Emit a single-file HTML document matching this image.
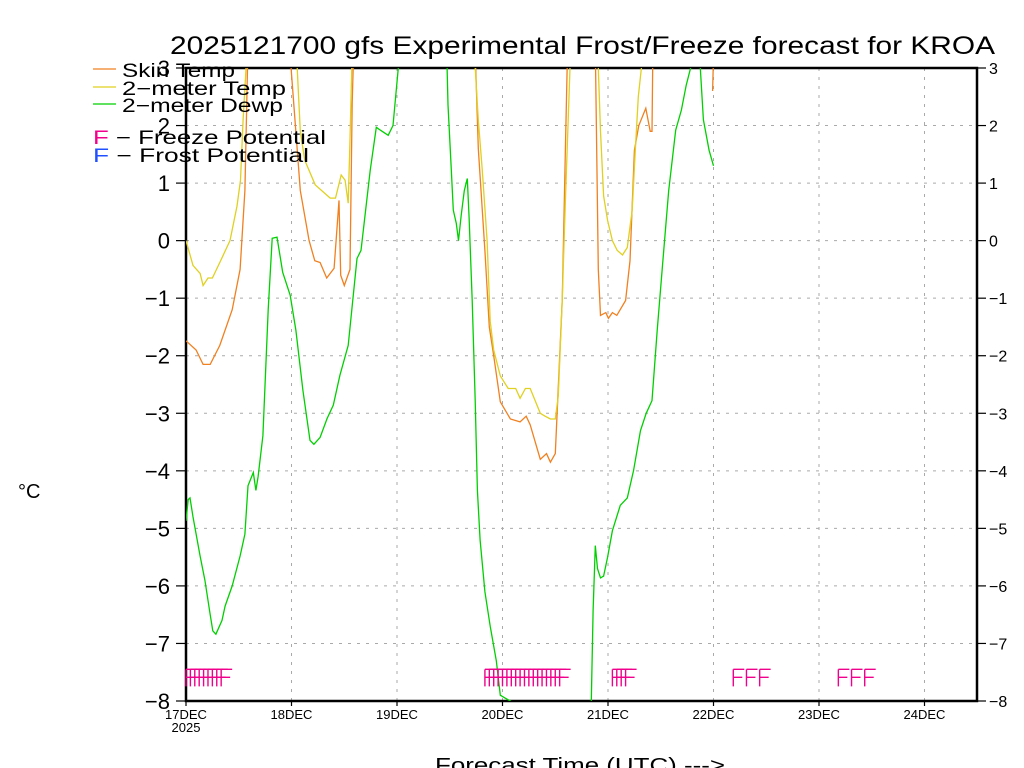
<!DOCTYPE html>
<html><head><meta charset="utf-8"><style>
html,body{margin:0;padding:0;background:#fff;}
svg{display:block;font-family:"Liberation Sans",sans-serif;}
</style></head><body>
<svg id="chart" width="1024" height="768" viewBox="0 0 1024 768" xmlns="http://www.w3.org/2000/svg">
<text x="170" y="54" textLength="825" lengthAdjust="spacingAndGlyphs" font-size="25" fill="#000">2025121700 gfs Experimental Frost/Freeze forecast for KROA</text>
<text x="18" y="498" font-size="20" fill="#000">°C</text>
<text x="435" y="772" textLength="290" lengthAdjust="spacingAndGlyphs" font-size="20" fill="#000">Forecast Time (UTC) ---&gt;</text>
<g id="grid"></g>
<g id="axes"></g>
<defs><clipPath id="plotclip"><rect x="186" y="68" width="791" height="633"/></clipPath></defs>
<g id="series" clip-path="url(#plotclip)"></g>
<g id="marks"></g>
<g id="legend">
  <line x1="93" y1="69" x2="116" y2="69" stroke="#f08020" stroke-width="1.3"/>
  <text x="122" y="77" font-size="19" textLength="113" lengthAdjust="spacingAndGlyphs">Skin Temp</text>
  <line x1="93" y1="87" x2="116" y2="87" stroke="#e0d020" stroke-width="1.3"/>
  <text x="122" y="95" font-size="19" textLength="164" lengthAdjust="spacingAndGlyphs">2−meter Temp</text>
  <line x1="93" y1="104" x2="116" y2="104" stroke="#00d000" stroke-width="1.3"/>
  <text x="122" y="112" font-size="19" textLength="161" lengthAdjust="spacingAndGlyphs">2−meter Dewp</text>
  <text x="93" y="144" font-size="19" textLength="233" lengthAdjust="spacingAndGlyphs"><tspan fill="#f0008c">F</tspan> − Freeze Potential</text>
  <text x="93" y="162" font-size="19" textLength="216" lengthAdjust="spacingAndGlyphs"><tspan fill="#2050ff">F</tspan> − Frost Potential</text>
</g>
</svg>
<script>
const yTicks=[3,2,1,0,-1,-2,-3,-4,-5,-6,-7,-8];
const dayLabels=["17DEC","18DEC","19DEC","20DEC","21DEC","22DEC","23DEC","24DEC"];
const skinHours=[0,2.3,3.9,5.5,7.7,10.5,12.3,13.4,14,15,null,23,24,26,28,29.3,30.5,32,33.7,34.8,35.2,36,37.3,37.8,38.4,null,65.5,66.5,68,69,70,71.5,73.8,76,77.4,78.3,80.6,82,82.9,84,85.6,86.3,87,null,93,93.4,93.8,94.3,95.5,96.1,97,98,100,101,102,103,104.6,105.6,106,106.3,null,119.8,120];
const skinVals=[-1.74,-1.9,-2.15,-2.15,-1.82,-1.2,-0.5,0.87,3,4,null,4,2.9,0.87,0,-0.35,-0.38,-0.65,-0.48,0.7,-0.6,-0.78,-0.5,2.4,4,null,4,1.6,-0.17,-1.5,-2.0,-2.8,-3.1,-3.15,-3.05,-3.2,-3.8,-3.7,-3.85,-3.7,-1.0,1.6,4,null,4,1.7,-0.5,-1.3,-1.25,-1.35,-1.25,-1.3,-1.04,-0.35,1.57,2.0,2.3,1.9,1.9,4,null,2.6,3.2];
const t2Hours=[0,1.6,3.2,3.9,5,6,7.7,10,11.6,12.4,13,13.8,null,24.8,25.3,26,27,29.4,32.8,34,35.3,36.2,36.9,37.3,37.8,null,65.4,65.8,66.5,67.4,68.5,69.2,70,71.5,73.3,75,76,77.2,78.3,80.6,81.7,82.9,84,84.7,85.6,86.3,87.5,null,93.5,93.8,94.3,95,95.9,97,98.1,99.3,100.4,101.5,102.2,102.9,103.6,104];
const t2Vals=[0,-0.43,-0.57,-0.78,-0.65,-0.65,-0.38,0,0.6,1.05,2.1,3.2,null,3.5,3,1.9,1.4,0.97,0.74,0.74,1.14,1.05,0.65,1.75,3.3,null,3.5,3,2.1,1.22,0,-1.4,-1.9,-2.35,-2.57,-2.57,-2.74,-2.57,-2.57,-3.0,-3.05,-3.1,-3.1,-2.7,-1.0,0.7,3.3,null,3.5,3,1.9,0.78,0.35,0,-0.17,-0.25,-0.12,0.53,1.57,2.5,3,3.4];
const dewHours=[0,0.5,0.9,1.6,3.2,4.3,5.5,6.1,6.8,8.2,8.9,10.5,12.3,13.4,14.1,15.3,15.9,16.4,17.5,18.7,19.6,20.7,22,23.7,25,26.6,28.2,29.1,30.5,32.1,33.5,35,36.9,38.9,39.8,41.9,43.3,44.2,46,47.1,48.3,49,null,59,59.4,59.6,60.3,60.8,61.5,62,62.6,63.3,64,64.4,65.1,65.8,66.3,66.9,68,69.2,70.6,71.5,72.6,73.8,75,null,91.8,92.2,92.6,93.1,93.6,94.3,95,95.9,97,98.8,100.4,101.8,103.4,104.7,106,107.2,108.4,109.8,111.4,112.7,113.8,114.8,115.5,116.5,117,117.7,119,120];
const dewVals=[-4.87,-4.5,-4.47,-4.8,-5.48,-5.9,-6.5,-6.78,-6.84,-6.6,-6.35,-6.0,-5.48,-5.1,-4.26,-4.03,-4.34,-4.1,-3.39,-1.2,0.04,0.06,-0.55,-0.95,-1.56,-2.6,-3.47,-3.54,-3.42,-3.09,-2.86,-2.34,-1.82,-0.31,-0.17,1.22,1.97,1.92,1.83,2.0,3,3.6,null,3.6,3,2.36,1.3,0.53,0.3,0,0.44,0.87,1.08,0.4,-1.04,-2.78,-4.34,-5.2,-6.1,-6.7,-7.3,-7.9,-7.95,-8.0,-8.3,null,-8.3,-8,-6.43,-5.3,-5.7,-5.86,-5.83,-5.5,-5.04,-4.6,-4.47,-4.0,-3.3,-3.0,-2.78,-1.56,-0.43,0.87,1.92,2.27,2.7,3,3.4,3.4,3,2.1,1.57,1.3];
const freezeHours=[0,1,2,3,4,5,6,7,8,68,69,70,71,72,73,74,75,76,77,78,79,80,81,82,83,84,85,97,98,99,100,124.5,127.5,130.5,148.4,151.4,154.4];

const NS="http://www.w3.org/2000/svg";
const X0=186,X1=977,Y3=68,Ym8=701,DAY=105.5;
function xs(h){return X0+h*DAY/24;}
function ys(v){return Y3+(3-v)*(Ym8-Y3)/11;}
function mk(tag,attrs,parent){const e=document.createElementNS(NS,tag);for(const k in attrs)e.setAttribute(k,attrs[k]);parent.appendChild(e);return e;}
const grid=document.getElementById('grid'),axes=document.getElementById('axes'),series=document.getElementById('series'),marks=document.getElementById('marks');
yTicks.forEach(v=>{
  const y=ys(v);
  const gl=mk('line',{x1:X0,x2:X1,y1:y,y2:y,stroke:'#aaa','stroke-dasharray':'3,6','stroke-width':1},grid);
  
  
  const tl=mk('line',{x1:176,x2:X0,y1:y,y2:y,stroke:'#000','stroke-width':1.2},axes);
  
  
  const tr=mk('line',{x1:X1,x2:986,y1:y,y2:y,stroke:'#000','stroke-width':1.2},axes);
  
  
  const lt=mk('text',{x:170,y:y+8,'text-anchor':'end','font-size':22},axes);
  lt.textContent=(v<0?'−':'')+Math.abs(v);
  
  
  const rt=mk('text',{x:989,y:y+6,'font-size':16},axes);
  rt.textContent=(v<0?'−':'')+Math.abs(v);
  
  
});
dayLabels.forEach((d,i)=>{
  const x=xs(i*24);
  if(i>0){const gl=mk('line',{x1:x,x2:x,y1:Y3,y2:Ym8,stroke:'#aaa','stroke-dasharray':'3,6','stroke-width':1},grid);
  
  }
  const tk=mk('line',{x1:x,x2:x,y1:Ym8,y2:Ym8+5,stroke:'#000','stroke-width':1.2},axes);
  
  
  const t=mk('text',{x:x,y:719,'text-anchor':'middle','font-size':13},axes);
  t.textContent=d;
  
  
});
const yr=mk('text',{x:X0,y:732,'text-anchor':'middle','font-size':13},axes);
yr.textContent='2025';


const fr=mk('rect',{x:X0,y:Y3,width:X1-X0,height:Ym8-Y3,fill:'none',stroke:'#000','stroke-width':2.5},axes);


function drawSeries(hours,vals,color,name){
  let d='',pen=false;
  for(let i=0;i<hours.length;i++){
    if(hours[i]===null||vals[i]===null){pen=false;continue;}
    d+=(pen?'L':'M')+xs(hours[i]).toFixed(1)+','+ys(vals[i]).toFixed(1);pen=true;
  }
  const p=mk('path',{d:d,fill:'none',stroke:color,'stroke-width':1.3},series);
  
  
}
drawSeries(dewHours,dewVals,'#00d000','dewpoint-line');
drawSeries(skinHours,skinVals,'#f08020','skin-temp-line');
drawSeries(t2Hours,t2Vals,'#e0d020','2m-temp-line');
freezeHours.forEach(h=>{
  const x=xs(h),yt=ys(-7.45);
  const g=mk('path',{d:`M${x},${yt}V${yt+17}M${x},${yt}H${x+11}M${x},${yt+8}H${x+9}`,stroke:'#f0008c','stroke-width':1.4,fill:'none'},marks);
  
  
});
</script>
</body></html>
